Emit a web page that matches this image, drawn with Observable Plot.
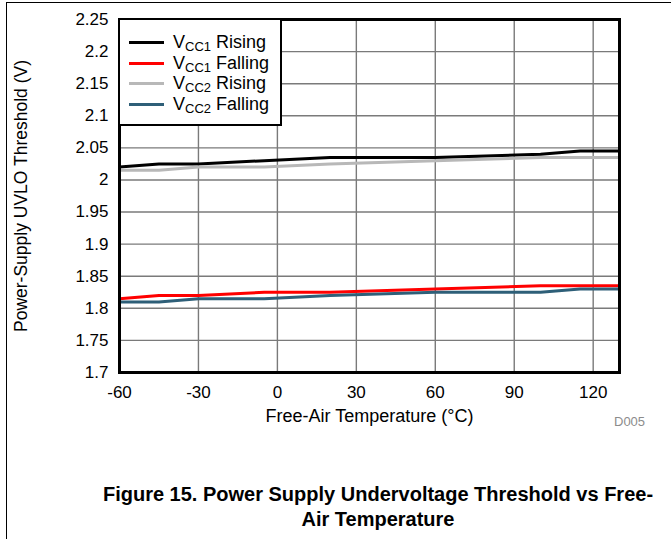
<!DOCTYPE html>
<html>
<head>
<meta charset="utf-8">
<script src="https://cdn.jsdelivr.net/npm/d3@7"></script>
<script src="https://cdn.jsdelivr.net/npm/@observablehq/plot@0.6"></script>
<style>
  html, body { margin: 0; padding: 0; background: #fff; }
  #page { position: relative; width: 671px; height: 539px; overflow: hidden; font-family: "Liberation Sans", Arial, sans-serif; }
  #topline { position: absolute; left: 6px; top: 2px; width: 665px; height: 0; border-top: 1.5px solid #000; }
  #leftline { position: absolute; left: 6px; top: 2px; width: 0; height: 537px; border-left: 1.5px solid #000; }
  #chart { position: absolute; left: 0; top: 0; }
  #legend { position: absolute; left: 118px; top: 18px; width: 160px; height: 104px; border: 2.5px solid #000; background: #fff; }
  .row { position: absolute; left: 0; height: 20px; width: 160px; }
  .sw { position: absolute; left: 9px; width: 35px; height: 0; border-top: 3px solid #000; top: 9px; }
  .lt { position: absolute; left: 53px; top: 0; font-size: 18px; line-height: 20px; color: #000; white-space: nowrap; }
  .lt sub { font-size: 13px; vertical-align: -3px; line-height: 0; }
  #dcode { position: absolute; left: 614px; top: 414px; font-size: 13px; color: #8c8c8c; }
  #caption { position: absolute; left: 40px; width: 676px; top: 482px; text-align: center; font-weight: bold; font-size: 20px; line-height: 25px; color: #000; }
</style>
</head>
<body>
<div id="page">
  <div id="chart"></div>
  <div id="topline"></div>
  <div id="leftline"></div>
  <div id="legend"></div>
  <div id="dcode">D005</div>
  <div id="caption">Figure 15. Power Supply Undervoltage Threshold vs Free-<br>Air Temperature</div>
</div>
<script>
// Temperatures (°C)
const temps = [-60, -45, -30, -5, 20, 60, 100, 115, 130];
// Series values (V)
const vcc1Rising  = [2.02, 2.025, 2.025, 2.03, 2.035, 2.035, 2.04, 2.045, 2.045];
const vcc1Falling = [1.815, 1.82, 1.82, 1.825, 1.825, 1.83, 1.835, 1.835, 1.835];
const vcc2Rising  = [2.015, 2.015, 2.02, 2.02, 2.025, 2.03, 2.035, 2.035, 2.035];
const vcc2Falling = [1.81, 1.81, 1.815, 1.815, 1.82, 1.825, 1.825, 1.83, 1.83];
// Series names
const seriesNames = ["VCC1 Rising", "VCC1 Falling", "VCC2 Rising", "VCC2 Falling"];
const seriesColors = ["#000000", "#ff0000", "#b8b8b8", "#2e5f78"];
// Tick labels
const xTicks = [-60, -30, 0, 30, 60, 90, 120];
const yTicks = [1.7, 1.75, 1.8, 1.85, 1.9, 1.95, 2, 2.05, 2.1, 2.15, 2.2, 2.25];

const seriesValues = [vcc1Rising, vcc1Falling, vcc2Rising, vcc2Falling];
const data = [];
seriesNames.forEach((name, i) => {
  temps.forEach((t, j) => data.push({series: name, t, v: seriesValues[i][j]}));
});

const W = 671, H = 430;
const plot = Plot.plot({
  width: W,
  height: H,
  marginLeft: 119,
  marginRight: 52,
  marginTop: 19,
  marginBottom: H - 372,
  style: { fontFamily: '"Liberation Sans", Arial, sans-serif', fontSize: "17px", color: "#000", background: "transparent" },
  x: { domain: [-60, 130] },
  y: { domain: [1.7, 2.25] },
  color: { domain: seriesNames, range: seriesColors },
  marks: [
    Plot.gridX(xTicks, { stroke: "#7a7a7a", strokeOpacity: 1, strokeWidth: 1.4 }),
    Plot.gridY(yTicks, { stroke: "#7a7a7a", strokeOpacity: 1, strokeWidth: 1.4 }),
    Plot.line(data, { x: "t", y: "v", z: "series", stroke: "series", strokeWidth: 3 }),
    Plot.frame({ stroke: "#000", strokeWidth: 3 }),
    Plot.axisX(xTicks, { tickSize: 0, tickPadding: 13, fontSize: 17, label: null, tickFormat: d => String(d) }),
    Plot.axisX({ ticks: [], tickSize: 0, fontSize: 18, label: "Free-Air Temperature (°C)", labelAnchor: "center", labelArrow: "none", labelOffset: 49 }),
    Plot.axisY(yTicks, { tickSize: 0, tickPadding: 11, fontSize: 17, label: null, tickFormat: d => String(d) }),
    Plot.axisY({ ticks: [], tickSize: 0, fontSize: 17.5, label: "Power-Supply UVLO Threshold (V)", labelAnchor: "center", labelArrow: "none", labelOffset: 105 })
  ]
});
document.getElementById("chart").appendChild(plot);

// Legend
const legend = document.getElementById("legend");
const rowTops = [12, 32.5, 53, 73.5];
seriesNames.forEach((name, i) => {
  const parts = name.split(" ");
  const row = document.createElement("div");
  row.className = "row";
  row.style.top = rowTops[i] + "px";
  const sw = document.createElement("div");
  sw.className = "sw";
  sw.style.borderTopColor = seriesColors[i];
  const lt = document.createElement("div");
  lt.className = "lt";
  lt.innerHTML = "V<sub>" + parts[0].slice(1) + "</sub> " + parts[1];
  row.appendChild(sw);
  row.appendChild(lt);
  legend.appendChild(row);
});
</script>
</body>
</html>
